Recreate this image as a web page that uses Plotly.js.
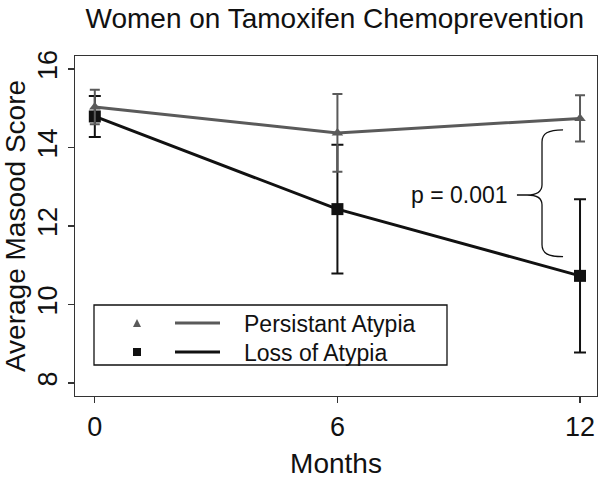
<!DOCTYPE html>
<html>
<head>
<meta charset="utf-8">
<script src="https://cdn.plot.ly/plotly-3.0.1.min.js"></script>
<style>
  body { margin: 0; background: #fff; }
  #chart { width: 600px; height: 479px; }
</style>
</head>
<body>
<div id="chart"></div>
<script>
// data
var months = [0, 6, 12];
var persistMean = [15.03, 14.37, 14.74];
var persistErr = [0.44, 0.99, 0.59];
var lossMean = [14.79, 12.43, 10.73];
var lossErr = [0.52, 1.64, 1.95];
var yTicks = [8, 10, 12, 14, 16];

var grey = "#5a5a5a";
var black = "#111111";
var font = "Liberation Sans, Arial, sans-serif";

// plot area in pixels (used for the hand made legend)
var L = 75, T = 56, W = 522, H = 340;
function px(x) { return (x - L) / W; }
function py(y) { return (T + H - y) / H; }

// 1. traces - loss first so the grey one sits on top
var traceLoss = {
  x: months,
  y: lossMean,
  type: "scatter",
  mode: "lines+markers",
  name: "Loss of Atypia",
  line: { color: black, width: 3 },
  marker: { symbol: "square", size: 12, color: black },
  error_y: { type: "data", array: lossErr, visible: true, color: black, thickness: 2, width: 6 },
  showlegend: false
};

var tracePersist = {
  x: months,
  y: persistMean,
  type: "scatter",
  mode: "lines+markers",
  name: "Persistant Atypia",
  line: { color: grey, width: 3 },
  marker: { symbol: "triangle-up", size: 10, color: grey },
  error_y: { type: "data", array: persistErr, visible: true, color: grey, thickness: 2, width: 5 },
  showlegend: false
};

var data = [traceLoss, tracePersist];

// 2. brace next to the 12 month points
var brace = "M 11.58,14.45 C 11.20,14.45 11.06,14.35 11.06,14.14 L 11.06,13.05 " +
  "C 11.06,12.85 10.90,12.79 10.69,12.79 C 10.90,12.79 11.06,12.74 11.06,12.54 " +
  "L 11.06,11.52 C 11.06,11.31 11.20,11.22 11.58,11.22 M 10.44,12.79 L 10.69,12.79";

var shapes = [
  { type: "path", xref: "x", yref: "y", path: brace, line: { color: black, width: 1.3 } },
  // legend box
  { type: "rect", xref: "paper", yref: "paper", x0: px(94), x1: px(447), y0: py(365), y1: py(305),
    line: { color: black, width: 1.3 }, fillcolor: "rgba(0,0,0,0)" },
  { type: "line", xref: "paper", yref: "paper", x0: px(175), x1: px(220), y0: py(323), y1: py(323),
    line: { color: grey, width: 3 } },
  { type: "line", xref: "paper", yref: "paper", x0: px(175), x1: px(220), y0: py(352), y1: py(352),
    line: { color: black, width: 3 } },
  { type: "path", xref: "paper", yref: "paper",
    path: "M " + px(133) + "," + py(327) + " L " + px(141) + "," + py(327) + " L " + px(137) + "," + py(319) + " Z",
    fillcolor: grey, line: { color: grey, width: 0 } },
  { type: "rect", xref: "paper", yref: "paper", x0: px(133), x1: px(141), y0: py(356), y1: py(348),
    fillcolor: black, line: { color: black, width: 0 } }
];

var annotations = [
  { x: 9.01, y: 12.79, xref: "x", yref: "y", text: "p = 0.001", showarrow: false,
    font: { family: font, size: 23, color: black }, xanchor: "center", yanchor: "middle" },
  { x: px(242), y: py(324), xref: "paper", yref: "paper", text: "Persistant Atypia", showarrow: false,
    font: { family: font, size: 23, color: black }, xanchor: "left", yanchor: "middle" },
  { x: px(242), y: py(353), xref: "paper", yref: "paper", text: "Loss of Atypia", showarrow: false,
    font: { family: font, size: 23, color: black }, xanchor: "left", yanchor: "middle" }
];

// 3. layout
var layout = {
  width: 600,
  height: 479,
  margin: { l: L, r: 600 - L - W, t: T, b: 479 - T - H },
  paper_bgcolor: "#fff",
  plot_bgcolor: "#fff",
  font: { family: font, color: black },
  title: {
    text: "Women on Tamoxifen Chemoprevention",
    font: { family: font, size: 28, color: black },
    x: 0.558, xref: "container", xanchor: "center",
    y: 0.962, yref: "container", yanchor: "middle"
  },
  xaxis: {
    range: [-0.49, 12.42],
    tickvals: months,
    ticktext: months.map(String),
    ticks: "outside", ticklen: 6, tickwidth: 1.3, tickcolor: "#333",
    showline: true, mirror: true, linecolor: "#333", linewidth: 1.3,
    showgrid: false, zeroline: false,
    tickfont: { size: 27 },
    title: { text: "Months", font: { size: 28 }, standoff: 14 }
  },
  yaxis: {
    range: [7.67, 16.33],
    tickvals: yTicks,
    ticktext: yTicks.map(String),
    tickangle: -90,
    ticks: "outside", ticklen: 6, tickwidth: 1.3, tickcolor: "#333",
    showline: true, mirror: true, linecolor: "#333", linewidth: 1.3,
    showgrid: false, zeroline: false,
    tickfont: { size: 27 },
    title: { text: "Average Masood Score", font: { size: 28 }, standoff: 6 }
  },
  shapes: shapes,
  annotations: annotations,
  showlegend: false
};

Plotly.newPlot("chart", data, layout, { displayModeBar: false, staticPlot: true });
</script>
</body>
</html>
